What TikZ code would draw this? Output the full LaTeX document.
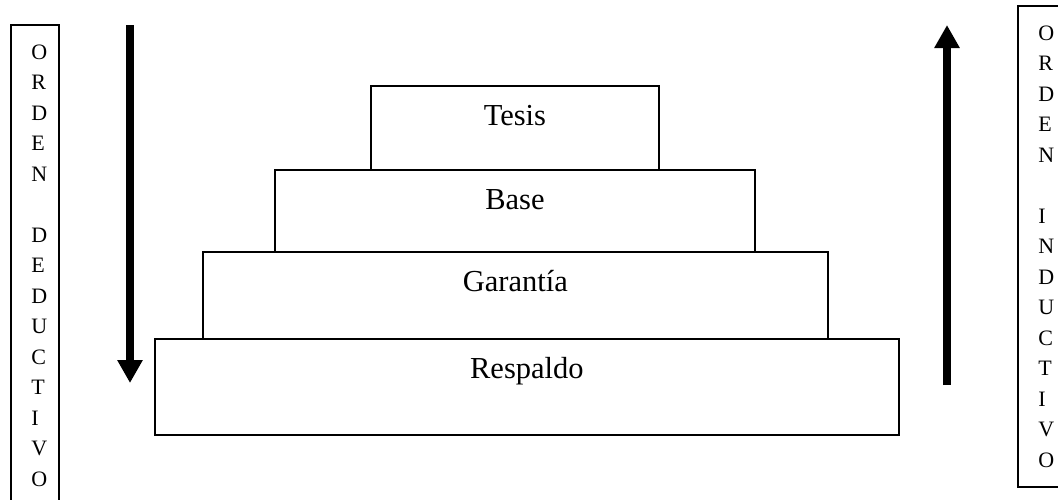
\documentclass[tikz,border=0pt]{standalone}
\usepackage{fontspec}
\setmainfont{Liberation Serif}
\usetikzlibrary{arrows.meta,calc}
\begin{document}
\begin{tikzpicture}[x=0.5pt,y=-0.5pt,
  tier/.style={draw, line width=0.9pt, rectangle, inner sep=0pt, anchor=north west},
  tiertext/.style={anchor=base, inner sep=0pt, font=\fontsize{15.25}{18}\selectfont},
  sidebox/.style={draw, line width=0.9pt, rectangle, inner sep=0pt, anchor=north west},
  letter/.style={anchor=base west, inner sep=0pt, font=\fontsize{11}{13}\selectfont},
  bigarrow/.style={line width=4pt, -{Triangle[length=11.5pt,width=12pt]}}]
\useasboundingbox (0,0) rectangle (1058,499);
\clip (0,0) rectangle (1058,499);
% pyramid
\node[tier, minimum width=144pt, minimum height=42pt] (tesis) at (370,85) {};
\node[tier, minimum width=240pt, minimum height=41pt] (base) at (274,169) {};
\node[tier, minimum width=312.5pt, minimum height=43.5pt] (garantia) at (202,251) {};
\node[tier, minimum width=372pt, minimum height=48pt] (respaldo) at (154,338) {};
\node[tiertext] (tesisT) at ($(tesis.north)+(0,40)$) {Tesis};
\node[tiertext] (baseT) at ($(base.north)+(0,40)$) {Base};
\node[tiertext] (garantiaT) at ($(garantia.north)+(0,40)$) {Garantía};
\node[tiertext] (respaldoT) at ($(respaldo.north)+(0,40)$) {Respaldo};
% side boxes
\node[sidebox, minimum width=24pt, minimum height=260pt] (ded) at (10,24) {};
\node[sidebox, minimum width=30pt, minimum height=240.5pt] (ind) at (1017,5) {};
\foreach \l [count=\i from 0] in {O,R,D,E,N,{},D,E,D,U,C,T,I,V,O}
  \node[letter] (d\i) at (31,59+30.5*\i) {\l};
\foreach \l [count=\i from 0] in {O,R,D,E,N,{},I,N,D,U,C,T,I,V,O}
  \node[letter] (n\i) at (1038,40+30.5*\i) {\l};
% arrows
\coordinate (dtop) at (130,25);
\coordinate (dtip) at (130,383);
\coordinate (ibot) at (947,385);
\coordinate (itip) at (947,25);
\draw[bigarrow] (dtop) -- (dtip);
\draw[bigarrow] (ibot) -- (itip);
\end{tikzpicture}
\end{document}
